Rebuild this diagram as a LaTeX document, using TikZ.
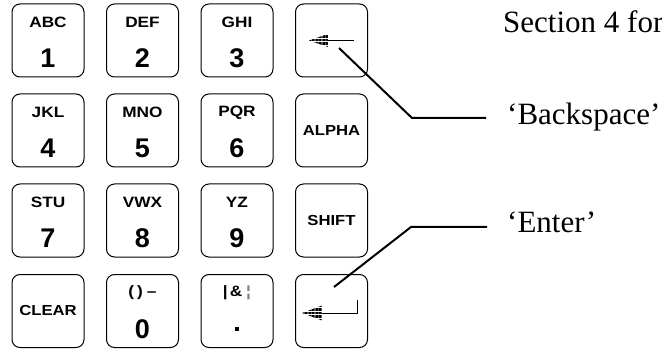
\documentclass[tikz,border=0pt]{standalone}
\usepackage{fontspec}
\setmainfont{Liberation Serif}
\newfontfamily\keyfont{Liberation Sans}
\newfontfamily\widekeyfont[FakeStretch=1.15]{Liberation Sans}
\usetikzlibrary{calc}
\usetikzlibrary{patterns.meta}
\tikzset{
  keybox/.style={draw,rounded corners=8pt,line width=1pt,minimum width=72pt,minimum height=73pt,inner sep=0pt},
  keyletters/.style={font=\widekeyfont\bfseries\fontsize{15}{15}\selectfont,inner sep=0pt},
  keydigit/.style={font=\keyfont\bfseries\fontsize{27}{27}\selectfont,inner sep=0pt},
  keyword/.style={font=\widekeyfont\bfseries\fontsize{14.5}{14.5}\selectfont,inner sep=0pt},
  leader/.style={line width=2pt},
  hatch/.style={pattern={Lines[angle=0,distance=1.4pt,line width=0.9pt]}},
  calltext/.style={font=\fontsize{31}{31}\selectfont,anchor=base west,inner sep=0pt}
}
\newcommand{\numkey}[5]{\node[keybox] (#1) at (#2,#3) {}; \node[keyletters] (#1l) at ($(#1)+(0,-18)$) {#4}; \node[keydigit] (#1d) at ($(#1)+(0,18)$) {#5};}
\newcommand{\wordkey}[4]{\node[keybox] (#1) at (#2,#3) {}; \node[keyword] (#1w) at (#1) {#4};}

\begin{document}
\begin{tikzpicture}[x=1pt,y=-1pt]
    \useasboundingbox (0,0) rectangle (662,350);
    %keypad
    \numkey{k1}{48}{40.5}{ABC}{1}
    \numkey{k2}{142.5}{40.5}{DEF}{2}
    \numkey{k3}{237}{40.5}{GHI}{3}
    \node[keybox] (kback) at (331.5,40.5) {};
    \numkey{k4}{48}{130.5}{JKL}{4}
    \numkey{k5}{142.5}{130.5}{MNO}{5}
    \numkey{k6}{237}{130.5}{PQR}{6}
    \wordkey{kalpha}{331.5}{130.5}{ALPHA}
    \numkey{k7}{48}{220.5}{STU}{7}
    \numkey{k8}{142.5}{220.5}{VWX}{8}
    \numkey{k9}{237}{220.5}{YZ}{9}
    \wordkey{kshift}{331.5}{220.5}{SHIFT}
    \wordkey{kclear}{48}{311}{CLEAR}
    \numkey{k0}{142.5}{311}{(\hspace{3pt})\hspace{4pt}–}{0}
    \numkey{kdot}{237}{311}{|\hspace{2pt}\&\hspace{4pt}{\color{gray}¦}}{\rule{3.5pt}{3.5pt}}
    \node[keybox] (kenter) at (331.5,311) {};

    %arrows on the keys
    \coordinate (backtip) at ($(kback)+(-22.5,0)$);
    \fill[hatch] (backtip) -- ++(19,-6.5) -- ++(0,13) -- cycle;
    \draw[line width=0.8pt] ($(backtip)+(19,0)$) -- ++(26,0);
    \coordinate (entertip) at ($(kenter)+(-29.5,2)$);
    \fill[hatch] (entertip) -- ++(20,-7.5) -- ++(0,15) -- cycle;
    \draw[line width=0.8pt] ($(entertip)+(20,0)$) -- ++(35,0) -- ++(0,-13);

    %call-outs
    \node[calltext] (section) at (503,33) {Section 4 for};
    \node[calltext] (bsplabel) at (507,125) {‘Backspace’};
    \node[calltext] (entlabel) at (507,233) {‘Enter’};
    \coordinate (bspstart) at ($(kback)+(7.5,7.5)$);
    \coordinate (bspend) at (486,118);
    \coordinate (entstart) at ($(kenter)+(2.5,-24)$);
    \coordinate (entend) at (487,227);
    \draw[leader] (bspstart) -- (412,118) -- (bspend);
    \draw[leader] (entstart) -- (411,227) -- (entend);
\end{tikzpicture}
\end{document}
